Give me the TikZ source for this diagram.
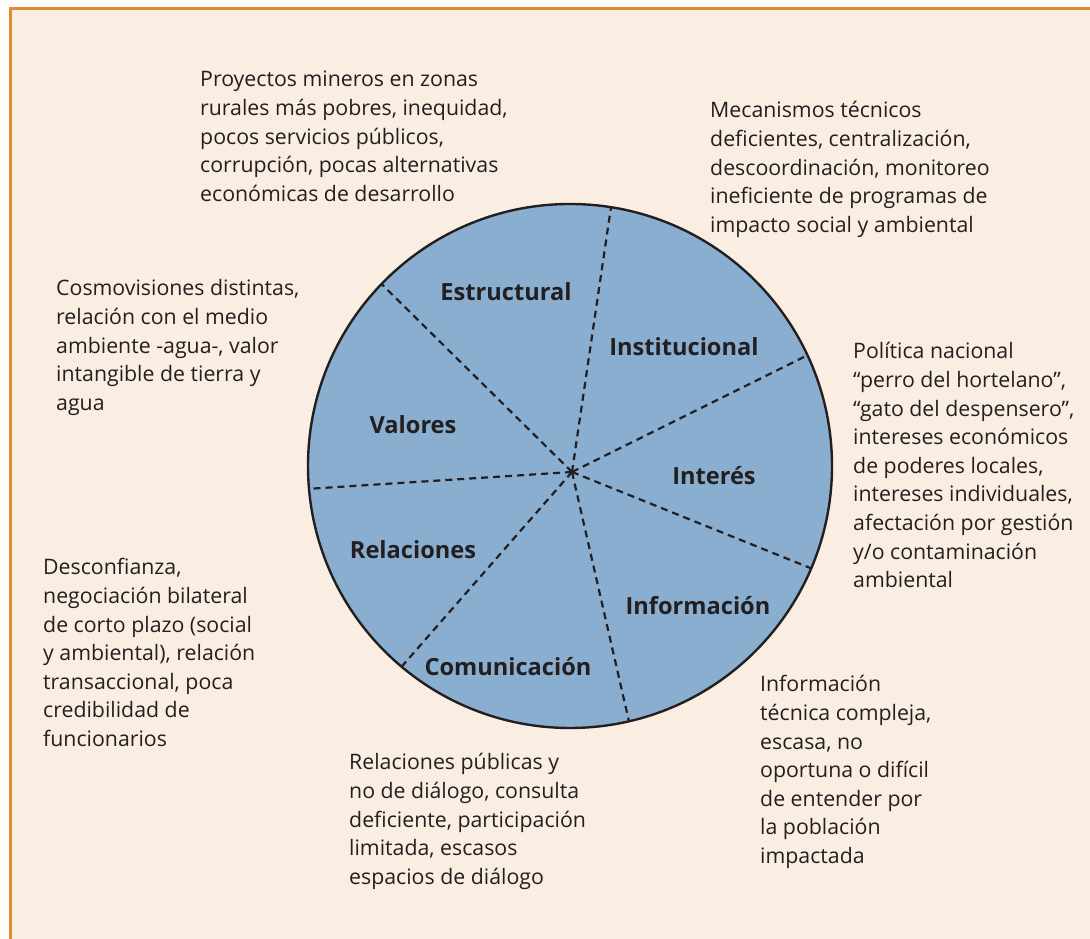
\documentclass[tikz,border=0pt]{standalone}
\usepackage{fontspec}
\setmainfont{Open Sans}
\usepackage{xcolor}
\usetikzlibrary{calc,positioning}
\definecolor{crema}{RGB}{250,238,226}
\definecolor{naranja}{RGB}{226,140,45}
\definecolor{azul}{RGB}{137,174,207}
\definecolor{tinta}{RGB}{35,31,32}
\tikzset{
  rueda/.style={fill=azul,draw=tinta,line width=2.4pt},
  radio/.style={draw=tinta,line width=2.2pt,dash pattern=on 7pt off 5pt},
  etiqueta/.style={font=\bfseries\fontsize{23.6}{26}\selectfont,text=tinta,inner sep=0pt},
  nota/.style={anchor=base west,inner sep=0pt,font=\fontsize{21.3}{28.6}\selectfont,text=tinta}
}

\begin{document}
\begin{tikzpicture}[x=1pt,y=1pt]
\useasboundingbox (0,0) rectangle (1090,939);
\fill[crema] (10,0) rectangle (1090,930);
\draw[naranja,line width=3pt] (10,0)--(10,930)--(1090,930);
% rueda de conflictos
\coordinate (centro) at (570,473);
\coordinate (eje) at (572,467);
\draw[rueda] (centro) circle (262);
\foreach \a [count=\i] in {81,25,-23,-77,-130,185,136}{
  \coordinate (r\i) at ($(centro)+(\a:262)$);
  \draw[radio] (eje)--(r\i);
}
\node[etiqueta] (estructural) at (506,647) {Estructural};
\node[etiqueta] (institucional) at (684,592) {Institucional};
\node[etiqueta] (valores) at (413,514) {Valores};
\node[etiqueta] (interes) at (714,463) {Interés};
\node[etiqueta] (relaciones) at (413,389) {Relaciones};
\node[etiqueta] (informacion) at (698,333) {Información};
\node[etiqueta] (comunicacion) at (508,272) {Comunicación};
% textos alrededor
\node[nota] (tEstructural) at (200,852) {\begin{tabular}[t]{@{}l@{}}Proyectos mineros en zonas\\ rurales más pobres, inequidad,\\ pocos servicios públicos,\\ corrupción, pocas alternativas\\ económicas de desarrollo\end{tabular}};
\node[nota] (tInstitucional) at (710,821) {\begin{tabular}[t]{@{}l@{}}Mecanismos técnicos\\ deficientes, centralización,\\ descoordinación, monitoreo\\ ineficiente de programas de\\ impacto social y ambiental\end{tabular}};
\node[nota] (tValores) at (56,643) {\begin{tabular}[t]{@{}l@{}}Cosmovisiones distintas,\\ relación con el medio\\ ambiente -agua-, valor\\ intangible de tierra y\\ agua\end{tabular}};
\node[nota] (tInteres) at (853,580) {\begin{tabular}[t]{@{}l@{}}Política nacional\\ “perro del hortelano”,\\ “gato del despensero”,\\ intereses económicos\\ de poderes locales,\\ intereses individuales,\\ afectación por gestión\\ y/o contaminación\\ ambiental\end{tabular}};
\node[nota] (tRelaciones) at (43,364) {\begin{tabular}[t]{@{}l@{}}Desconfianza,\\ negociación bilateral\\ de corto plazo (social\\ y ambiental), relación\\ transaccional, poca\\ credibilidad de\\ funcionarios\end{tabular}};
\node[nota] (tInformacion) at (760,247) {\begin{tabular}[t]{@{}l@{}}Información\\ técnica compleja,\\ escasa, no\\ oportuna o difícil\\ de entender por\\ la población\\ impactada\end{tabular}};
\node[nota] (tComunicacion) at (349,169) {\begin{tabular}[t]{@{}l@{}}Relaciones públicas y\\ no de diálogo, consulta\\ deficiente, participación\\ limitada, escasos\\ espacios de diálogo\end{tabular}};
\end{tikzpicture}
\end{document}
